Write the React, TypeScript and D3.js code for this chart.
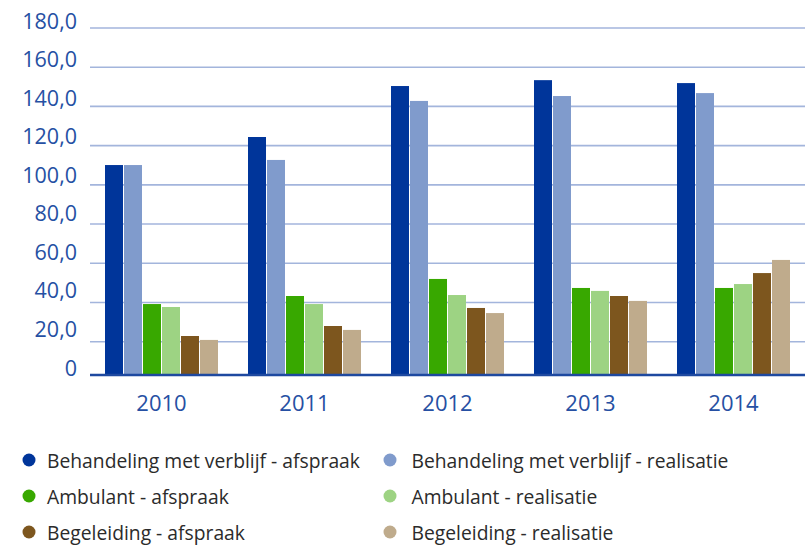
import React from "react";
import { scaleBand, scaleLinear, range } from "d3";

const years = ["2010", "2011", "2012", "2013", "2014"];
const seriesNames = [
  "Behandeling met verblijf - afspraak",
  "Behandeling met verblijf - realisatie",
  "Ambulant - afspraak",
  "Ambulant - realisatie",
  "Begeleiding - afspraak",
  "Begeleiding - realisatie",
];
const behandelingAfspraak = [110.1, 124.4, 150.4, 153.4, 151.9];
const behandelingRealisatie = [110.1, 112.7, 142.8, 145.3, 146.8];
const ambulantAfspraak = [39.2, 43.3, 52.0, 47.4, 47.4];
const ambulantRealisatie = [37.7, 39.2, 43.8, 45.9, 49.4];
const begeleidingAfspraak = [22.9, 28.0, 37.2, 43.3, 55.0];
const begeleidingRealisatie = [20.9, 26.0, 34.6, 40.8, 61.7];
const yTicks = [0, 20, 40, 60, 80, 100, 120, 140, 160, 180];

const seriesValues = [
  behandelingAfspraak,
  behandelingRealisatie,
  ambulantAfspraak,
  ambulantRealisatie,
  begeleidingAfspraak,
  begeleidingRealisatie,
];
const colors = ["#00359a", "#809bcc", "#38a800", "#9dd383", "#7d561e", "#bfab8c"];

const WIDTH = 805;
const HEIGHT = 545;
const left = 90;
const right = 805;
const baseY = 375;
const labelColor = "#2650a3";
const font = "'Open Sans', sans-serif";

const fmt = (v: number) => (v === 0 ? "0" : v.toFixed(1).replace(".", ","));

export default function App() {
  const x0 = scaleBand<string>()
    .domain(years)
    .range([left, right])
    .paddingInner(0.2098)
    .paddingOuter(0.1049);
  const x1 = scaleBand<number>()
    .domain(range(seriesNames.length))
    .range([0, x0.bandwidth()])
    .paddingInner(1 / 19);
  const y = scaleLinear().domain([0, 180]).range([380.9, 28]);
  // tick labels sit a little above their gridlines
  const yLabel = scaleLinear().domain([0, 180]).range([367, 20]);

  return (
    <div style={{ position: "absolute", left: 0, top: 0 }}>
      <svg width={WIDTH} height={HEIGHT} style={{ display: "block", background: "#fff" }}>
        {yTicks
          .filter((t) => t > 0)
          .map((t) => (
            <line key={t} x1={left} x2={right} y1={y(t)} y2={y(t)} stroke="#a3b5dc" strokeWidth={1.6} />
          ))}
        {yTicks.map((t) => (
          <text
            key={t}
            x={77}
            y={yLabel(t)}
            textAnchor="end"
            dominantBaseline="central"
            fontFamily={font}
            fontSize={21.5}
            fill={labelColor}
          >
            {fmt(t)}
          </text>
        ))}
        {years.map((yr, i) => (
          <g key={yr} transform={`translate(${x0(yr)},0)`}>
            {seriesValues.map((vals, s) => (
              <rect
                key={s}
                x={x1(s)}
                y={y(vals[i])}
                width={x1.bandwidth()}
                height={baseY - y(vals[i])}
                fill={colors[s]}
              />
            ))}
          </g>
        ))}
        <line x1={left} x2={right} y1={baseY} y2={baseY} stroke="#1e49a0" strokeWidth={2.5} />
        {years.map((yr) => (
          <text
            key={yr}
            x={(x0(yr) as number) + x0.bandwidth() / 2}
            y={402}
            textAnchor="middle"
            dominantBaseline="central"
            fontFamily={font}
            fontSize={22}
            fill={labelColor}
          >
            {yr}
          </text>
        ))}
        {seriesNames.map((name, s) => {
          const col = s % 2;
          const row = Math.floor(s / 2);
          const cx = col === 0 ? 29 : 390;
          const tx = col === 0 ? 47 : 411.5;
          const cy = 460 + row * 36;
          return (
            <g key={name}>
              <circle cx={cx} cy={cy} r={6.5} fill={colors[s]} />
              <text
                x={tx}
                y={cy}
                dominantBaseline="central"
                fontFamily={font}
                fontSize={19.3}
                fill="#2b2b2b"
              >
                {name}
              </text>
            </g>
          );
        })}
      </svg>
    </div>
  );
}
